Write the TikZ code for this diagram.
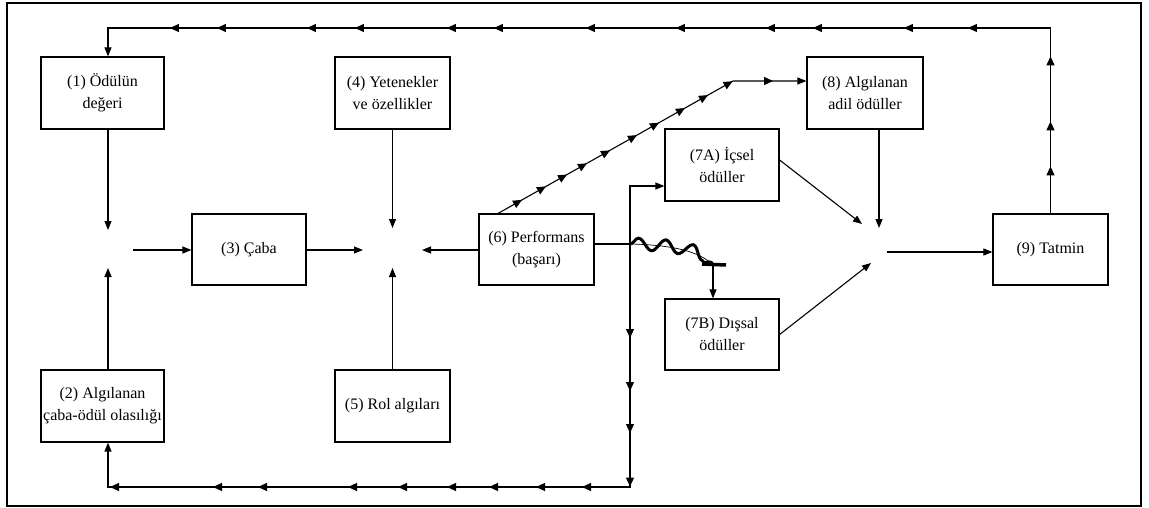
\documentclass[tikz,border=0pt]{standalone}
\usepackage{fontspec}
\setmainfont{Liberation Serif}
\usetikzlibrary{arrows.meta,decorations.markings,decorations.pathmorphing}
\begin{document}
\begin{tikzpicture}[x=1pt,y=-1pt, line width=1.1pt,
  >={Triangle[length=9pt,width=7pt]},
  box/.style={draw, line width=1.2pt, align=center, inner sep=0pt,
    minimum width=115pt, minimum height=71pt, font=\fontsize{16}{22}\selectfont},
  mk/.style={postaction={decorate,decoration={markings,mark=at position #1pt with {\arrow[line width=1.1pt]{Triangle[length=9pt,width=8pt]}}}}}]
\useasboundingbox (0,0) rectangle (1149,508);
\draw[line width=1.5pt] (7,3) rectangle (1141,506);

% boxes
\node[box, minimum width=123pt, minimum height=72pt] (n1) at (102.5,93) {(1) Ödülün\\değeri};
\node[box, minimum width=123pt, minimum height=72pt] (n2) at (102.5,406) {(2) Algılanan\\çaba-ödül olasılığı};
\node[box, minimum width=114pt] (n3) at (249,249.5) {(3) Çaba};
\node[box, minimum height=72pt] (n4) at (392.5,93) {(4) Yetenekler\\ve özellikler};
\node[box, minimum height=72pt] (n5) at (392.5,406) {(5) Rol algıları};
\node[box] (n6) at (536.5,249.5) {(6) Performans\\(başarı)};
\node[box, minimum width=114pt, minimum height=72pt] (n7a) at (722,165) {(7A) İçsel\\ödüller};
\node[box, minimum width=114pt] (n7b) at (722,334.5) {(7B) Dışsal\\ödüller};
\node[box, minimum width=116pt, minimum height=72pt] (n8) at (865,93) {(8) Algılanan\\adil ödüller};
\node[box] (n9) at (1050.5,249.5) {(9) Tatmin};

% helper coordinates
\coordinate (L) at (108,0);
\coordinate (j1t) at (108,230);
\coordinate (j1b) at (108,268);
\coordinate (j1r) at (133,250);
\coordinate (j2t) at (392.5,228);
\coordinate (j2b) at (392.5,268);
\coordinate (j2l) at (363,250);
\coordinate (j2r) at (422,250);
\coordinate (j3a) at (862,224);
\coordinate (j3b) at (879,228);
\coordinate (j3c) at (871,263);
\coordinate (j3o) at (887,252);
\coordinate (t9) at (1050.5,28);
\coordinate (t1) at (108,28);
\coordinate (b6) at (630,244);
\coordinate (up7) at (630,186);
\coordinate (bc) at (630,487);
\coordinate (bl) at (108,487);
\coordinate (d0) at (497,214);
\coordinate (d1) at (733,81);
\coordinate (w1) at (713,265);

% left junction
\draw[->] (n1.south -| L) -- (j1t);
\draw[->, line width=1.6pt] (n2.north -| L) -- (j1b);
\draw[->] (j1r) -- (n3.west |- j1r);
% middle junction
\draw[->] (n3.east |- j2l) -- (j2l);
\draw[->] (n4.south) -- (j2t);
\draw[->] (n5.north) -- (j2b);
\draw[->] (n6.west |- j2r) -- (j2r);
% right junction
\draw[->] ([yshift=5pt]n7a.east) -- (j3a);
\draw[->] (n8.south -| j3b) -- (j3b);
\draw[->] (n7b.east) -- (j3c);
\draw[->] (j3o) -- (n9.west |- j3o);

% top feedback loop
\draw[->, mk=47, mk=92, mk=157, mk=268, mk=332, mk=423, mk=470, mk=560, mk=650,
      mk=742, mk=789, mk=881, mk=929, mk=1019, mk=1066]
  (n9.north) -- (t9) -- (t1) -- (n1.north -| L);

% performance to equitable rewards
\draw[->, mk=28.7, mk=56.2, mk=80.4, mk=103.3, mk=129.7, mk=160.7, mk=186, mk=215.8,
      mk=242.2, mk=270.4, mk=310.9]
  (d0) -- (d1) -- (n8.west |- d1);

% performance to rewards and bottom loop
\draw (n6.east |- b6) -- (b6);
\draw[->] (b6) -- (up7) -- (n7a.west |- up7);
\draw[->, line width=1.3pt, mk=94, mk=147, mk=189, mk=242.5, mk=291, mk=337, mk=384, mk=426, mk=475,
      mk=525, mk=615, mk=660, mk=763]
  (b6) -- (bc) -- (bl) -- (n2.south -| L);

% wavy link to extrinsic rewards
\draw[line width=0.7pt] (b6) .. controls (675,245) and (700,252) .. (w1);
\draw[line width=3pt, decorate, decoration={snake, amplitude=6pt, segment length=27pt}]
  (b6) .. controls (675,245) and (700,252) .. (w1);
\draw[line width=3.5pt] (702,264) -- (726,265);
\draw[->] (w1) -- (n7b.north -| w1);
\end{tikzpicture}
\end{document}
